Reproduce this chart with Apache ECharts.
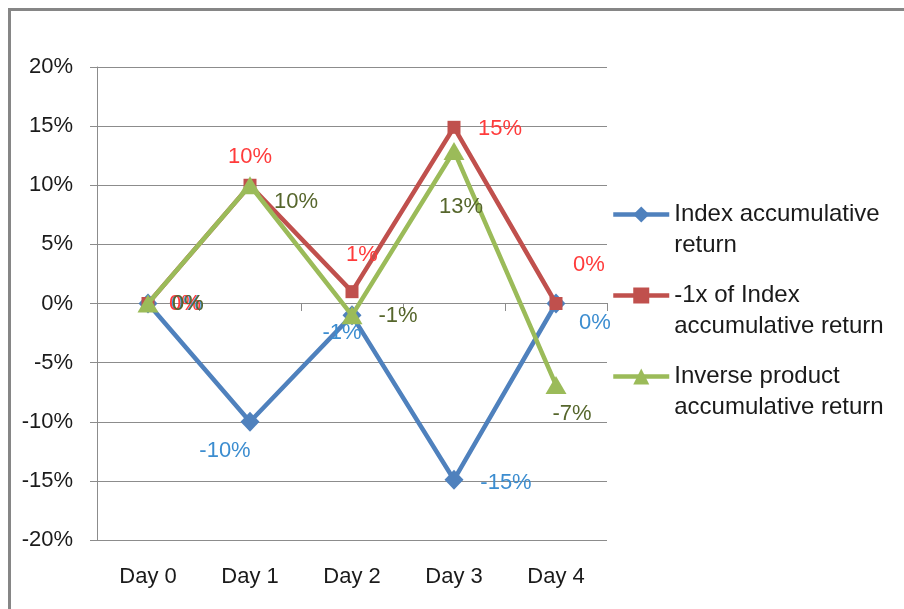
<!DOCTYPE html>
<html><head><meta charset="utf-8">
<script src="https://cdn.jsdelivr.net/npm/echarts@6/dist/echarts.min.js"></script>
<style>html,body{margin:0;padding:0;background:#fff}#c{width:904px;height:609px}</style>
</head><body><div id="c"></div>
<script>
var categories = ['Day 0', 'Day 1', 'Day 2', 'Day 3', 'Day 4'];
var indexReturn = [0, -10, -1, -14.9, 0];
var minusOneX = [0, 10, 1, 14.9, 0];
var inverseProduct = [0, 10, -1, 12.9, -6.9];
var seriesNames = ['Index accumulative return', '-1x of Index accumulative return', 'Inverse product accumulative return'];
var legendLabels = ['Index accumulative\nreturn', '-1x of Index\naccumulative return', 'Inverse product\naccumulative return'];
var yTicks = [-20, -15, -10, -5, 0, 5, 10, 15, 20];

var FONT = 'Liberation Sans';
var colors = ['#4F81BD', '#C0504D', '#9BBB59'];
var labelColors = ['#3c8dd0', '#ff3b3b', '#56662c'];
var symbols = ['diamond', 'rect', 'triangle'];
var symbolSizes = [[19, 20], 13, [21, 18]];
var offsets = [
  [[39, 0], [-25, 29], [-10, 18], [52, 3], [39, 19]],
  [[37, 0], [0, -28], [10, -37], [46, 2], [33, -39]],
  [[40, 0], [46, 17], [46, 1], [7, 56], [16, 29]]
];
var values = [indexReturn, minusOneX, inverseProduct];

var series = values.map(function (vals, s) {
  return {
    name: seriesNames[s],
    type: 'line',
    xAxisIndex: 0,
    data: vals.map(function (v, i) {
      return { value: v, label: { offset: offsets[s][i] } };
    }),
    symbol: symbols[s],
    symbolSize: symbolSizes[s],
    showAllSymbol: true,
    lineStyle: { color: colors[s], width: 4.5 },
    itemStyle: { color: colors[s] },
    label: {
      show: true, position: 'inside',
      formatter: function (p) { return Math.round(p.value) + '%'; },
      color: labelColors[s], fontFamily: FONT, fontSize: 22
    },
    emphasis: { disabled: true },
    animation: false,
    z: 2 + s
  };
});

var legendTops = [168, 249, 330];
var legends = seriesNames.map(function (n, s) {
  return {
    data: [n], left: 611, top: legendTops[s], orient: 'vertical',
    padding: 0,
    itemWidth: 56, itemHeight: 20,
    selectedMode: false,
    lineStyle: { width: 4.5 },
    formatter: function () { return '\n' + legendLabels[s]; },
    textStyle: { fontFamily: FONT, fontSize: 24, lineHeight: 31, color: '#1a1a1a' }
  };
});

var chart = echarts.init(document.getElementById('c'), null, { renderer: 'canvas' });
chart.setOption({
  animation: false,
  backgroundColor: '#fff',
  graphic: [{
    type: 'rect', shape: { x: 9.5, y: 9.5, width: 1000, height: 1000 },
    style: { fill: 'none', stroke: '#868686', lineWidth: 3 }, z: 0, silent: true
  }],
  grid: { left: 97, right: 297, top: 67, bottom: 69, containLabel: false, outerBoundsMode: 'none' },
  legend: legends,
  xAxis: [{
    type: 'category', data: categories, position: 'bottom',
    axisLine: { show: false, onZero: false }, axisTick: { show: false },
    axisLabel: { interval: 0, fontFamily: FONT, fontSize: 22, color: '#1a1a1a', margin: 26 }
  }, {
    type: 'category', data: categories, position: 'bottom', offset: -237,
    axisLine: { show: true, onZero: false, lineStyle: { color: '#8c8c8c', width: 1 } },
    axisTick: { show: true, length: 8, interval: 0, lineStyle: { color: '#8c8c8c' } },
    axisLabel: { show: false }
  }],
  yAxis: {
    type: 'value', min: yTicks[0], max: yTicks[yTicks.length - 1], interval: 5,
    axisLine: { show: true, lineStyle: { color: '#8c8c8c', width: 1 } },
    axisTick: { show: true, length: 7, lineStyle: { color: '#8c8c8c' } },
    splitLine: { show: true, lineStyle: { color: '#8c8c8c', width: 1 } },
    axisLabel: { formatter: '{value}%', fontFamily: FONT, fontSize: 22, color: '#1a1a1a', margin: 24 }
  },
  series: series
});
</script></body></html>
